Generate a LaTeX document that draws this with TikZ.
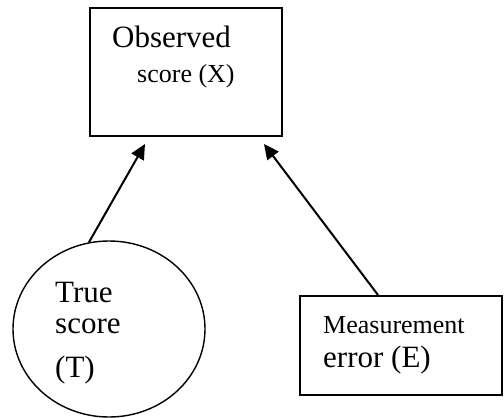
\documentclass[tikz,border=0pt]{standalone}
\usepackage{fontspec}
\setmainfont{Liberation Serif}
\usepackage{tikz}
\usetikzlibrary{arrows.meta,shapes.geometric}
\tikzset{
  sqbox/.style={draw=black,line width=2pt,inner sep=0pt},
  oval/.style={ellipse,draw=black,line width=1.4pt,inner sep=0pt,
               minimum width=192pt,minimum height=176pt},
  lbl/.style={anchor=base west,inner sep=0pt},
  big/.style={font=\fontsize{31}{31}\selectfont},
  mid/.style={font=\fontsize{26}{26}\selectfont},
  arr/.style={-{Triangle[length=15pt,width=14pt]},line width=2pt,black},
}
\begin{document}
\begin{tikzpicture}[x=1pt,y=-1pt]
  \useasboundingbox (0,0) rectangle (504,418);
  % boxes and the circle
  \node[sqbox,minimum width=192pt,minimum height=128pt](obs) at (186,72){};
  \node[oval](true) at (109,329){};
  \node[sqbox,minimum width=202pt,minimum height=99pt](meas) at (401,345.5){};
  % texts
  \node[lbl,big](obsA) at (112,47){Observed};
  \node[lbl,mid](obsB) at (137,82){score (X)};
  \node[lbl,big](trueA) at (55,302){True};
  \node[lbl,big](trueB) at (55,333){score};
  \node[lbl,big](trueC) at (55,377){(T)};
  \node[lbl,mid](measA) at (323,333){Measurement};
  \node[lbl,big](measB) at (323,367){error (E)};
  % arrows
  \draw[arr] (true.103) -- ([xshift=56pt,yshift=-7pt]obs.south west);
  \draw[arr] ([xshift=-23pt]meas.north) -- ([xshift=-19pt,yshift=-7pt]obs.south east);
\end{tikzpicture}
\end{document}
